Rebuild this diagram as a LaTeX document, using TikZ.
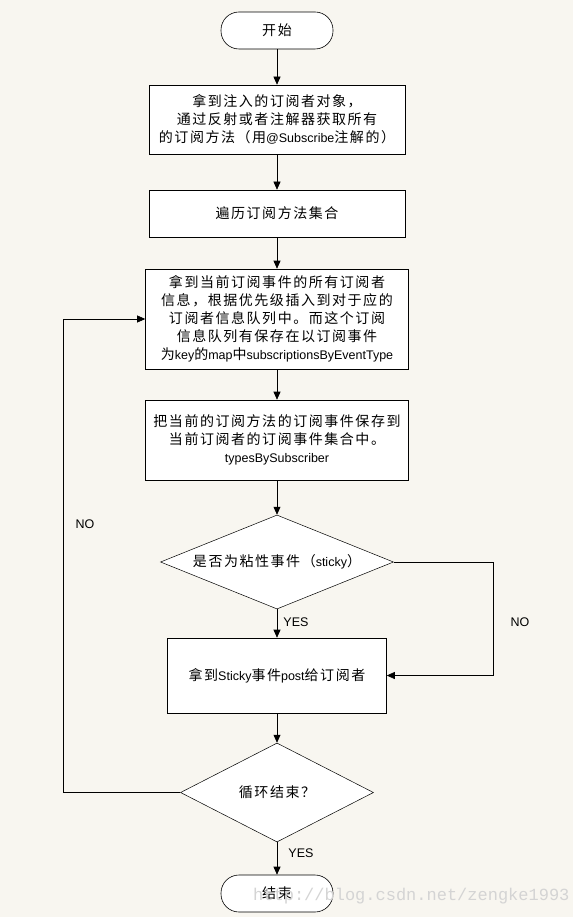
\documentclass[tikz,border=0pt]{standalone}
\usepackage{fontspec}
\setmainfont[LetterSpace=11]{Noto Sans CJK SC}
\newfontfamily\latfont{Liberation Sans}
\newfontfamily\wmfont{Liberation Mono}
\usetikzlibrary{shapes.geometric,arrows.meta}
\definecolor{bgc}{HTML}{F8F6F0}
\newcommand\la[1]{{\latfont\fontsize{12.5}{18}\selectfont #1}}
\begin{document}
\begin{tikzpicture}[x=1pt,y=-1pt,
  box/.style={draw, fill=white, line width=0.6pt, inner sep=0pt, align=center, font=\fontsize{14}{18}\selectfont},
  term/.style={box, rounded corners=18pt, minimum width=112pt, minimum height=37pt},
  dec/.style={draw, fill=white, line width=0.5pt, diamond, inner sep=0pt, aspect=2.48, align=center, font=\fontsize{14}{18}\selectfont},
  arr/.style={-{Triangle[length=8pt,width=7pt]}, line width=0.6pt},
  lbl/.style={font=\latfont\fontsize{12.5}{15}\selectfont, inner sep=0pt},
  wm/.style={font=\wmfont\fontsize{17}{20}\selectfont, text=black!17, inner sep=0pt}]
\fill[bgc] (0,0) rectangle (573,917);
\useasboundingbox (0,0) rectangle (573,917);

\node[term] (start) at (277,30.5) {开始};
\node[box, minimum width=256pt, minimum height=69pt] (b1) at (277,119.5)
  {拿到注入的订阅者对象，\\通过反射或者注解器获取所有\\的订阅方法（用\la{@Subscribe}注解的）};
\node[box, minimum width=256pt, minimum height=47pt] (b2) at (277,213.5) {遍历订阅方法集合};
\node[box, minimum width=263pt, minimum height=100pt] (b3) at (277,319)
  {拿到当前订阅事件的所有订阅者\\信息，根据优先级插入到对于应的\\订阅者信息队列中。而这个订阅\\信息队列有保存在以订阅事件\\为\la{key}的\la{map}中\la{subscriptionsByEventType}};
\node[box, minimum width=263pt, minimum height=80pt] (b4) at (277,440)
  {把当前的订阅方法的订阅事件保存到\\当前订阅者的订阅事件集合中。\\\la{typesBySubscriber}};
\node[dec, minimum width=233pt, minimum height=94pt] (d1) at (277,562) {是否为粘性事件（\la{sticky}）};
\node[box, minimum width=219pt, minimum height=75pt] (b5) at (277,675.5) {拿到\la{Sticky}事件\la{post}给订阅者};
\node[dec, minimum width=193pt, minimum height=99pt] (d2) at (277,792.5) {循环结束？};
\node[term] (end) at (277,893.5) {结束};

\draw[arr] (start) -- (b1);
\draw[arr] (b1) -- (b2);
\draw[arr] (b2) -- (b3);
\draw[arr] (b3) -- (b4);
\draw[arr] (b4) -- (d1);
\draw[arr] (d1) -- (b5);
\draw[arr] (b5) -- (d2);
\draw[arr] (d2) -- (end);
\draw[arr] (d1.east) -- ++(100,0) |- (b5.east);
\draw[arr] (d2.west) -- ++(-117,0) |- (b3.west);

\node[lbl] (yes1) at (296,622) {YES};
\node[lbl] (no1) at (520,622) {NO};
\node[lbl] (no2) at (85,524) {NO};
\node[lbl] (yes2) at (301,853) {YES};

\node[wm, anchor=west] (wmk) at (253,896) {http://blog.csdn.net/zengke1993};
\end{tikzpicture}
\end{document}
